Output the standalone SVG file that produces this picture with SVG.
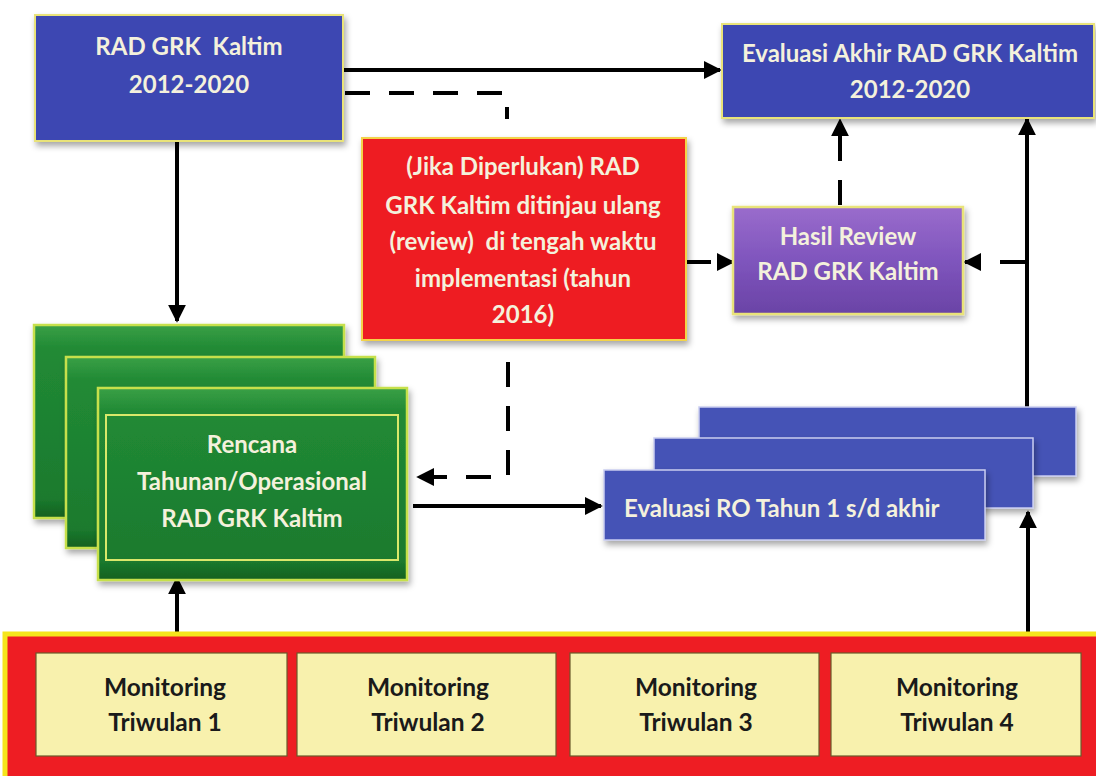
<svg xmlns="http://www.w3.org/2000/svg" width="1096" height="776" viewBox="0 0 1096 776">
  <defs>
    <style>
      text { font-family: Lato, "Open Sans", "Liberation Sans", sans-serif; font-weight: bold; text-anchor: middle; dominant-baseline: central; white-space: pre; }
      .light { fill: #f4f1dc; font-size: 24px; }
      .dark { fill: #1a1a1a; font-size: 24.5px; }
      .blue { fill: #3c46b2; stroke: #e9e37a; stroke-width: 2; filter: url(#shadow); }
      .blue2 { fill: #4552b6; stroke: #c9cdf0; stroke-width: 1.5; filter: url(#shadow); }
      .red { fill: #ee1d23; stroke: #f3d34a; stroke-width: 2; filter: url(#shadow); }
      .purple { fill: url(#gPurple); stroke: #e9e37a; stroke-width: 2.5; filter: url(#shadow); }
      .green { fill: url(#gGreen); stroke: #c6e04c; stroke-width: 2.5; filter: url(#shadow); }
      .inner { fill: none; stroke: #d9e86a; stroke-width: 2; }
      .mon { fill: #f8f1ad; stroke: #6b5a2a; stroke-width: 1.2; }
      .solid { fill: none; stroke: #000; stroke-width: 4; }
      .dash { fill: none; stroke: #000; stroke-width: 4; stroke-dasharray: 25 19; }
    </style>
    <filter id="shadow" x="-10%" y="-10%" width="125%" height="130%">
      <feDropShadow dx="2" dy="4" stdDeviation="3" flood-color="#000" flood-opacity="0.35"/>
    </filter>
    <linearGradient id="gPurple" x1="0" y1="0" x2="0" y2="1">
      <stop offset="0" stop-color="#9a6ccc"/>
      <stop offset="0.5" stop-color="#7f55bd"/>
      <stop offset="1" stop-color="#6a43a6"/>
    </linearGradient>
    <linearGradient id="gGreen" x1="0" y1="0" x2="0" y2="1">
      <stop offset="0" stop-color="#3aa046"/>
      <stop offset="0.12" stop-color="#218a35"/>
      <stop offset="0.9" stop-color="#1b7a2e"/>
      <stop offset="1" stop-color="#12601f"/>
    </linearGradient>
    <marker id="arrow" viewBox="0 0 10 10" refX="9" refY="5" markerWidth="4.5" markerHeight="4.5" orient="auto" markerUnits="strokeWidth">
      <path d="M0,0 L10,5 L0,10 z" fill="#000"/>
    </marker>
  </defs>

  <rect width="1096" height="776" fill="#ffffff"/>

  <!-- connectors -->
  <g id="connectors">
    <path class="solid" d="M343,70 H720" marker-end="url(#arrow)"/>
    <path class="dash" d="M345,93 H507 V119"/>
    <path class="dash" d="M508,362 V477 H418" marker-end="url(#arrow)"/>
    <path class="solid" d="M177,142 V321" marker-end="url(#arrow)"/>
    <path class="dash" d="M686,262 H733" stroke-dasharray="22 8" marker-end="url(#arrow)"/>
    <path class="dash" d="M840,205 V120" marker-end="url(#arrow)"/>
    <path class="solid" d="M1027,407 V119" marker-end="url(#arrow)"/>
    <path class="dash" d="M1025,262 H965" stroke-dasharray="25 18" marker-end="url(#arrow)"/>
    <path class="solid" d="M413,506 H601" marker-end="url(#arrow)"/>
    <path class="solid" d="M177,634 V578" marker-end="url(#arrow)"/>
    <path class="solid" d="M1028,634 V512" marker-end="url(#arrow)"/>
  </g>

  <g id="rad-grk">
    <rect class="blue" x="35" y="15" width="308" height="126"/>
    <text class="light" x="189" y="45">RAD GRK  Kaltim</text>
    <text class="light" x="189" y="83">2012-2020</text>
  </g>

  <g id="evaluasi-akhir">
    <rect class="blue" x="722" y="24" width="372" height="94"/>
    <text class="light" x="910" y="52">Evaluasi Akhir RAD GRK Kaltim</text>
    <text class="light" x="910" y="88">2012-2020</text>
  </g>

  <g id="review-tengah">
    <rect class="red" x="362" y="138" width="324" height="202"/>
    <text class="light" x="523" y="165">(Jika Diperlukan) RAD</text>
    <text class="light" x="523" y="204">GRK Kaltim ditinjau ulang</text>
    <text class="light" x="523" y="240">(review)  di tengah waktu</text>
    <text class="light" x="523" y="277">implementasi (tahun</text>
    <text class="light" x="523" y="313">2016)</text>
  </g>

  <g id="hasil-review">
    <rect class="purple" x="733" y="207" width="230" height="107"/>
    <text class="light" x="848" y="235">Hasil Review</text>
    <text class="light" x="848" y="270">RAD GRK Kaltim</text>
  </g>

  <g id="rencana-tahunan">
    <rect class="green" x="34" y="325" width="310" height="193"/>
    <rect class="green" x="66" y="357" width="309" height="191"/>
    <rect class="green" x="98" y="388" width="309" height="192"/>
    <rect class="inner" x="106" y="415" width="292" height="145"/>
    <text class="light" x="252" y="443">Rencana</text>
    <text class="light" x="252" y="480">Tahunan/Operasional</text>
    <text class="light" x="252" y="517">RAD GRK Kaltim</text>
  </g>

  <g id="evaluasi-ro">
    <rect class="blue2" x="699" y="407" width="377" height="69"/>
    <rect class="blue2" x="654" y="438" width="379" height="70"/>
    <rect class="blue2" x="604" y="470" width="381" height="70"/>
    <text class="light" x="624" y="507" style="text-anchor:start">Evaluasi RO Tahun 1 s/d akhir</text>
  </g>

  <g id="monitoring">
    <rect x="5" y="634" width="1100" height="150" fill="#ee1d23" stroke="#f5e51c" stroke-width="5"/>
    <g id="triwulan-1">
      <rect class="mon" x="36" y="653" width="251" height="103"/>
      <text class="dark" x="165" y="686">Monitoring</text>
      <text class="dark" x="165" y="721">Triwulan 1</text>
    </g>
    <g id="triwulan-2">
      <rect class="mon" x="297" y="653" width="259" height="103"/>
      <text class="dark" x="428" y="686">Monitoring</text>
      <text class="dark" x="428" y="721">Triwulan 2</text>
    </g>
    <g id="triwulan-3">
      <rect class="mon" x="570" y="653" width="249" height="103"/>
      <text class="dark" x="696" y="686">Monitoring</text>
      <text class="dark" x="696" y="721">Triwulan 3</text>
    </g>
    <g id="triwulan-4">
      <rect class="mon" x="831" y="653" width="250" height="103"/>
      <text class="dark" x="957" y="686">Monitoring</text>
      <text class="dark" x="957" y="721">Triwulan 4</text>
    </g>
  </g>
</svg>
